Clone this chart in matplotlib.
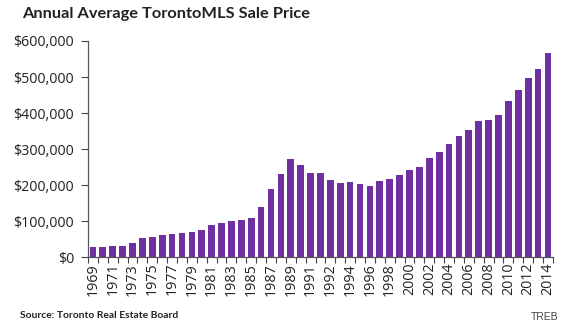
import matplotlib
matplotlib.use("Agg")
import matplotlib.pyplot as plt
from matplotlib.ticker import FuncFormatter, FixedLocator

years = list(range(1969, 1992)) + list(range(1991, 2015))
prices = [28929, 29492, 30426, 32513, 40605, 52806, 57581, 61389, 64559, 67333,
          70830, 75694, 90203, 95496, 101626, 102318, 109094, 138925, 189105, 229635,
          273698, 255020, 234313, 234313, 214971, 206490, 208921, 203028, 198150, 211307,
          216815, 228372, 243255, 251508, 275231, 293067, 315231, 335907, 352388, 377029,
          379943, 395460, 432264, 465014, 497130, 522958, 566611]
yticks = [0, 100000, 200000, 300000, 400000, 500000, 600000]

title = "Annual Average TorontoMLS Sale Price"
source = "Source: Toronto Real Estate Board"
credit = "TREB"

plt.rcParams['font.family'] = ['Open Sans', 'DejaVu Sans']

fig = plt.figure(figsize=(5.7, 3.25), dpi=100)
ax = fig.add_axes([0.1544, 0.2083, 0.970 - 0.1544, 0.874 - 0.2083])

x = list(range(len(years)))
ax.bar(x, prices, width=0.68, color="#7030A0", zorder=2)

ax.set_xlim(-0.5, len(years) - 0.5)
ax.set_ylim(0, 600000)
ax.set_yticks(yticks)
ax.yaxis.set_major_formatter(FuncFormatter(lambda v, p: "${:,.0f}".format(v)))

ax.xaxis.set_major_locator(FixedLocator(x[::2]))
ax.set_xticklabels([str(y) for y in years[::2]], rotation=90, fontsize=10.3, color="#222222")
ax.xaxis.set_minor_locator(FixedLocator([i - 0.5 for i in range(len(years) + 1)]))
ax.tick_params(axis='x', which='major', length=0, pad=4)
ax.tick_params(axis='x', which='minor', length=4, width=0.8, color="#444444", direction='out')
ax.tick_params(axis='y', length=5, width=0.8, color="#444444", labelsize=10.3, labelcolor="#222222", pad=5)

for s in ['top', 'right']:
    ax.spines[s].set_visible(False)
for s in ['left', 'bottom']:
    ax.spines[s].set_color("#555555")
    ax.spines[s].set_linewidth(0.9)

fig.text(22 / 570, 1 - 14 / 325, title, fontsize=11.8, fontweight='bold', color="#222222",
         ha='left', va='center', family=['Lato', 'DejaVu Sans'])
fig.text(20 / 570, 1 - 316 / 325, source, fontsize=7.4, fontweight='bold', color="#222222",
         ha='left', va='center', family=['Lato', 'DejaVu Sans'])
fig.text(558 / 570, 1 - 317 / 325, credit, fontsize=7.5, color="#444444",
         ha='right', va='center', family=['Liberation Sans', 'DejaVu Sans'])

fig.savefig("out.png", dpi=100)
